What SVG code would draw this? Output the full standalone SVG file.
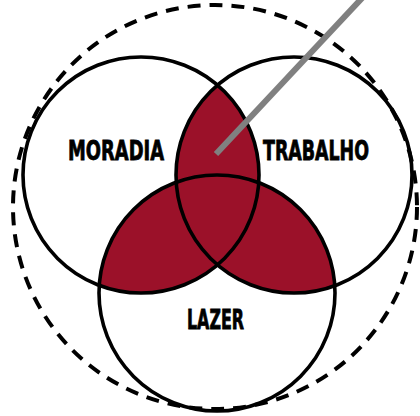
<svg xmlns="http://www.w3.org/2000/svg" width="420" height="416" viewBox="0 0 420 416">
<style>
.ring{fill:none;stroke:#000;stroke-width:3.6}
.lbl{font-family:"DejaVu Sans Condensed","DejaVu Sans","Liberation Sans",sans-serif;font-weight:bold;font-size:27px;fill:#000;stroke:#000;stroke-width:0.8}
.red{fill:#9b1129}
</style>
<defs>
<clipPath id="cR"><circle cx="294" cy="175" r="118"/></clipPath>
<clipPath id="cB"><circle cx="217" cy="293" r="118"/></clipPath>
</defs>
<rect width="420" height="416" fill="#fff"/>
<g id="outer">
<circle cx="215" cy="207" r="202" fill="none" stroke="#000" stroke-width="4" stroke-dasharray="13 9"/>
</g>
<g id="overlap">
<circle class="red" cx="141" cy="175" r="118" clip-path="url(#cR)"/>
<circle class="red" cx="141" cy="175" r="118" clip-path="url(#cB)"/>
<circle class="red" cx="294" cy="175" r="118" clip-path="url(#cB)"/>
</g>
<g id="moradia">
<circle class="ring" cx="141" cy="175" r="118"/>
<text class="lbl" x="68" y="160" textLength="96" lengthAdjust="spacingAndGlyphs">MORADIA</text>
</g>
<g id="trabalho">
<circle class="ring" cx="294" cy="175" r="118"/>
<text class="lbl" x="263" y="160" textLength="106" lengthAdjust="spacingAndGlyphs">TRABALHO</text>
</g>
<g id="lazer">
<circle class="ring" cx="217" cy="293" r="118"/>
<text class="lbl" x="187" y="329" textLength="57" lengthAdjust="spacingAndGlyphs">LAZER</text>
</g>
<g id="connectors">
<line x1="216" y1="154" x2="364" y2="-4" stroke="#808080" stroke-width="6"/>
</g>
</svg>
